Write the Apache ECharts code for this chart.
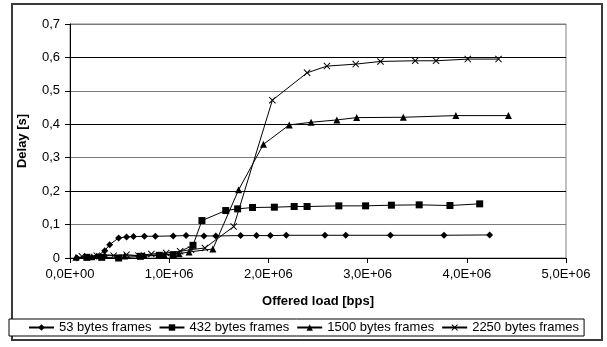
<!DOCTYPE html>
<html>
<head>
<meta charset="utf-8">
<script src="https://cdn.jsdelivr.net/npm/echarts@6/dist/echarts.min.js"></script>
<style>
  html, body { margin: 0; padding: 0; background: #fff; }
  #chart { width: 607px; height: 347px; }
</style>
</head>
<body>
<div id="chart"></div>
<script>
// Offered load (bps) and measured delay (s) per frame size
const load53 = [0.07e6, 0.16e6, 0.27e6, 0.35e6, 0.40e6, 0.49e6, 0.57e6, 0.64e6, 0.75e6, 0.86e6, 1.04e6, 1.17e6, 1.35e6, 1.47e6, 1.72e6, 1.88e6, 2.02e6, 2.18e6, 2.57e6, 2.78e6, 3.23e6, 3.77e6, 4.23e6];
const delay53 = [0, 0.002, 0.005, 0.022, 0.04, 0.06, 0.063, 0.064, 0.065, 0.065, 0.066, 0.067, 0.066, 0.066, 0.067, 0.067, 0.067, 0.068, 0.068, 0.068, 0.068, 0.068, 0.069];

const load432 = [0.17e6, 0.32e6, 0.49e6, 0.71e6, 0.90e6, 1.04e6, 1.24e6, 1.33e6, 1.57e6, 1.69e6, 1.84e6, 2.06e6, 2.26e6, 2.39e6, 2.71e6, 2.98e6, 3.24e6, 3.52e6, 3.83e6, 4.13e6];
const delay432 = [0.002, 0.002, 0, 0.005, 0.008, 0.01, 0.038, 0.112, 0.142, 0.147, 0.151, 0.152, 0.154, 0.154, 0.156, 0.156, 0.158, 0.159, 0.157, 0.162];

const load1500 = [0.06e6, 0.22e6, 0.35e6, 0.55e6, 0.75e6, 0.95e6, 1.10e6, 1.20e6, 1.44e6, 1.70e6, 1.95e6, 2.21e6, 2.43e6, 2.69e6, 2.89e6, 3.36e6, 3.89e6, 4.42e6];
const delay1500 = [0.002, 0.004, 0.01, 0.006, 0.008, 0.01, 0.013, 0.018, 0.027, 0.204, 0.34, 0.398, 0.406, 0.413, 0.42, 0.421, 0.426, 0.426];

const load2250 = [0.12e6, 0.27e6, 0.44e6, 0.57e6, 0.69e6, 0.82e6, 0.97e6, 1.11e6, 1.22e6, 1.36e6, 1.65e6, 2.04e6, 2.39e6, 2.59e6, 2.88e6, 3.13e6, 3.48e6, 3.69e6, 4.01e6, 4.32e6];
const delay2250 = [0.005, 0.007, 0.007, 0.01, 0.007, 0.012, 0.015, 0.02, 0.025, 0.03, 0.094, 0.472, 0.554, 0.574, 0.58, 0.588, 0.59, 0.59, 0.595, 0.595];

const seriesNames = ['53 bytes frames', '432 bytes frames', '1500 bytes frames', '2250 bytes frames'];

// Axis tick labels
const xTickLabels = ['0,0E+00', '1,0E+06', '2,0E+06', '3,0E+06', '4,0E+06', '5,0E+06'];
const yTickLabels = ['0', '0,1', '0,2', '0,3', '0,4', '0,5', '0,6', '0,7'];

const FONT = 'Liberation Sans, Arial, sans-serif';
const pairs = (xs, ys) => xs.map((x, i) => [x, ys[i]]);
const crossPath = 'path://M0,1L1,0L5,4L9,0L10,1L6,5L10,9L9,10L5,6L1,10L0,9L4,5Z';

const makeSeries = (name, xs, ys, symbol, size) => ({
  name,
  type: 'line',
  data: pairs(xs, ys),
  symbol,
  symbolSize: size,
  showAllSymbol: true,
  lineStyle: { color: '#000', width: 1 },
  itemStyle: { color: '#000' },
  emphasis: { disabled: true },
  animation: false
});

const chart = echarts.init(document.getElementById('chart'), null, { renderer: 'canvas' });
chart.setOption({
  backgroundColor: '#fff',
  animation: false,
  textStyle: { fontFamily: FONT, color: '#000' },
  grid: {
    left: 70, top: 24, right: 41, bottom: 89,
    show: true, borderColor: '#808080', borderWidth: 1, backgroundColor: 'transparent'
  },
  xAxis: {
    type: 'value',
    min: 0, max: 5e6, interval: 1e6,
    name: 'Offered load [bps]',
    nameLocation: 'middle',
    nameGap: 37,
    nameTextStyle: { fontFamily: FONT, fontSize: 13, fontWeight: 'bold', color: '#000' },
    axisLine: { show: true, lineStyle: { color: '#000', width: 1 } },
    axisTick: { show: true, inside: false, length: 5, lineStyle: { color: '#000' } },
    axisLabel: {
      margin: 10, fontSize: 13, fontFamily: FONT, color: '#000',
      formatter: v => xTickLabels[Math.round(v / 1e6)]
    },
    splitLine: { show: false }
  },
  yAxis: {
    type: 'value',
    min: 0, max: 0.7, interval: 0.1,
    name: 'Delay [s]',
    nameLocation: 'middle',
    nameGap: 41,
    nameTextStyle: { fontFamily: FONT, fontSize: 13, fontWeight: 'bold', color: '#000' },
    axisLine: { show: true, lineStyle: { color: '#000', width: 1 } },
    axisTick: { show: true, inside: false, length: 5, lineStyle: { color: '#000' } },
    axisLabel: {
      margin: 10, fontSize: 13, fontFamily: FONT, color: '#000',
      formatter: v => yTickLabels[Math.round(v * 10)]
    },
    splitLine: { show: true, lineStyle: { color: ['#000', '#7a7a7a'], width: 1 } }
  },
  legend: {
    data: seriesNames,
    left: 9, top: 319,
    orient: 'horizontal',
    itemWidth: 25, itemHeight: 8, itemGap: 7,
    padding: [2, 5, 2, 19],
    borderColor: '#000', borderWidth: 1,
    backgroundColor: '#fff',
    textStyle: { fontFamily: FONT, fontSize: 13, color: '#000' },
    selectedMode: false
  },
  graphic: [{
    type: 'rect',
    shape: { x: 12, y: 4, width: 590, height: 336 },
    style: { fill: 'none', stroke: '#3a3a3a', lineWidth: 2 },
    silent: true,
    z: -1
  }],
  series: [
    makeSeries(seriesNames[0], load53, delay53, 'diamond', 7),
    makeSeries(seriesNames[1], load432, delay432, 'rect', 7),
    makeSeries(seriesNames[2], load1500, delay1500, 'triangle', 7),
    makeSeries(seriesNames[3], load2250, delay2250, crossPath, 7)
  ]
});
</script>
</body>
</html>
